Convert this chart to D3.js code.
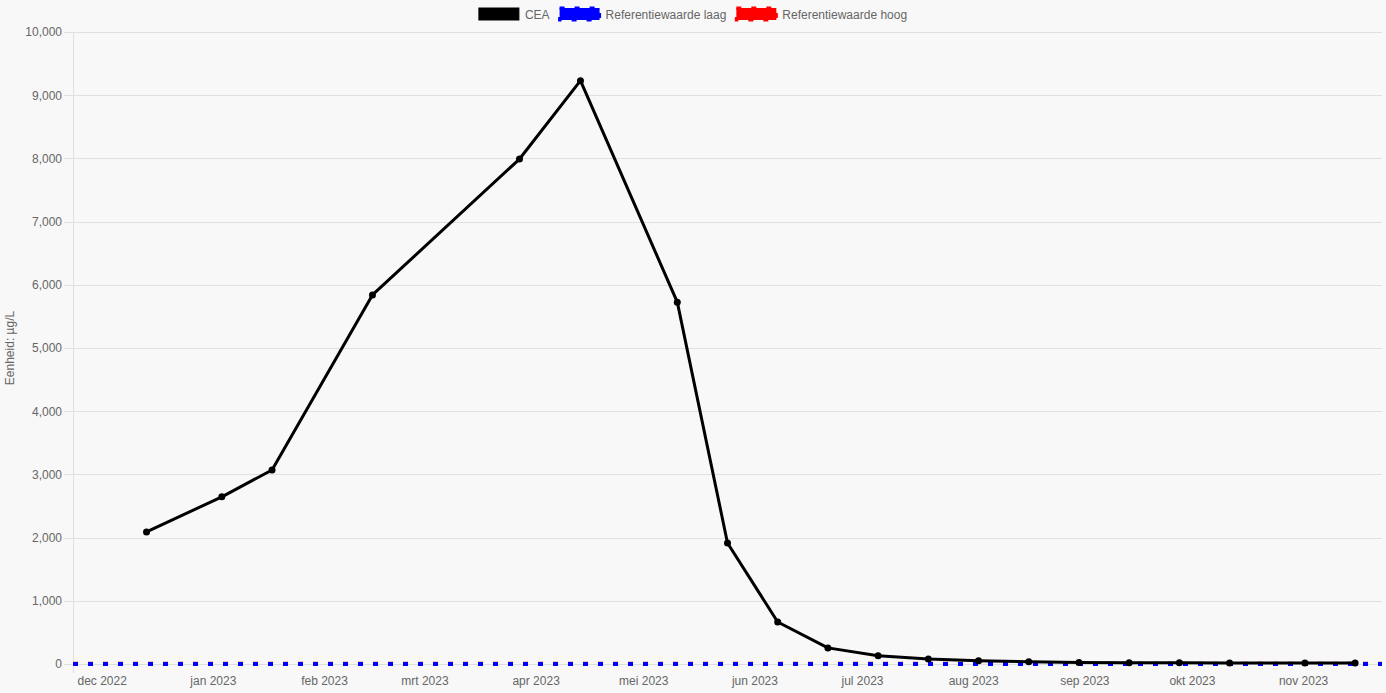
<!DOCTYPE html>
<html>
<head>
<meta charset="utf-8">
<script src="https://cdn.jsdelivr.net/npm/d3@7"></script>
<style>
  html, body { margin: 0; padding: 0; background: #f8f8f8; }
  svg { display: block; font-family: "Liberation Sans", Arial, Helvetica, sans-serif; }
</style>
</head>
<body>
<div id="chart"></div>
<script>
// data
const dates = ['2022-12-13 12:00', '2023-01-03 12:00', '2023-01-17 12:00', '2023-02-14 12:00',
    '2023-03-27 12:00', '2023-04-13 12:00', '2023-05-10 12:00', '2023-05-24 12:00',
    '2023-06-07 12:00', '2023-06-21 12:00', '2023-07-05 12:00', '2023-07-19 12:00',
    '2023-08-02 12:00', '2023-08-16 12:00', '2023-08-30 12:00', '2023-09-13 12:00',
    '2023-09-27 12:00', '2023-10-11 12:00', '2023-11-01 12:00', '2023-11-15 12:00'];
const ceaValues = [2090, 2645, 3070, 5840, 7990, 9230, 5725, 1915, 665, 255, 130, 80,
    50, 35, 25, 20, 18, 15, 15, 14];
const refDates = ['2022-11-23 00:00', '2023-11-23 00:00'];
const refLow = [0, 0];
const refHigh = [5, 5];
const yTicks = [0, 1000, 2000, 3000, 4000, 5000, 6000, 7000, 8000, 9000, 10000];
const monthNames = ['jan', 'feb', 'mrt', 'apr', 'mei', 'jun', 'jul', 'aug', 'sep', 'okt', 'nov', 'dec'];
const legendItems = [
    {label: 'CEA', color: '#000000', dashed: false},
    {label: 'Referentiewaarde laag', color: '#0000ff', dashed: true},
    {label: 'Referentiewaarde hoog', color: '#ff0000', dashed: true}
];

const width = 1386, height = 693;
const margin = {top: 32, right: 4, bottom: 29, left: 73};
const parse = d3.timeParse('%Y-%m-%d %H:%M');

const svg = d3.select('#chart').append('svg')
    .attr('width', width)
    .attr('height', height);

svg.append('rect').attr('width', width).attr('height', height).attr('fill', '#f8f8f8');

const x = d3.scaleTime()
    .domain(d3.extent(refDates, parse))
    .range([margin.left, width - margin.right]);
const y = d3.scaleLinear()
    .domain([0, 10000])
    .range([height - margin.bottom, margin.top]);

//grid lines
svg.append('g').selectAll('line').data(yTicks).enter().append('line')
    .attr('x1', margin.left - 9)
    .attr('x2', width - margin.right)
    .attr('y1', d => Math.round(y(d)) + 0.5)
    .attr('y2', d => Math.round(y(d)) + 0.5)
    .attr('stroke', '#e0e0e0')
    .attr('stroke-width', 1);

svg.append('line')
    .attr('x1', margin.left + 0.5).attr('x2', margin.left + 0.5)
    .attr('y1', margin.top).attr('y2', height - margin.bottom + 9)
    .attr('stroke', '#e0e0e0');

//y axis
const yAxis = svg.append('g')
    .attr('transform', 'translate(' + (margin.left - 11) + ',0)')
    .call(d3.axisLeft(y).tickValues(yTicks).tickFormat(d3.format(',')).tickSize(0).tickPadding(0));
yAxis.select('.domain').remove();
yAxis.selectAll('text').attr('fill', '#666').style('font-size', '12px');

svg.append('text')
    .attr('transform', 'translate(14,' + ((margin.top + height - margin.bottom) / 2) + ') rotate(-90)')
    .attr('text-anchor', 'middle')
    .attr('fill', '#666')
    .style('font-size', '12px')
    .text('Eenheid: µg/L');

//x axis
const xAxis = svg.append('g')
    .attr('transform', 'translate(0,' + (height - margin.bottom) + ')')
    .call(d3.axisBottom(x).ticks(d3.timeMonth.every(1))
        .tickFormat(d => monthNames[d.getMonth()] + ' ' + d.getFullYear())
        .tickSize(0).tickPadding(12));
xAxis.select('.domain').remove();
xAxis.selectAll('text').attr('fill', '#666').style('font-size', '12px');

//reference lines
const refLine = d3.line().x(d => x(d[0])).y(d => y(d[1]));
const refDatesParsed = refDates.map(parse);

svg.append('path')
    .datum(refDatesParsed.map((d, i) => [d, refHigh[i]]))
    .attr('d', refLine)
    .attr('fill', 'none')
    .attr('stroke', '#ff0000')
    .attr('stroke-width', 4)
    .attr('stroke-dasharray', '5,10');

svg.append('path')
    .datum(refDatesParsed.map((d, i) => [d, refLow[i]]))
    .attr('d', refLine)
    .attr('fill', 'none')
    .attr('stroke', '#0000ff')
    .attr('stroke-width', 4)
    .attr('stroke-dasharray', '5,10');

//CEA line
const ceaData = dates.map((d, i) => ({date: parse(d), value: ceaValues[i]}));
svg.append('path')
    .datum(ceaData)
    .attr('d', d3.line().x(d => x(d.date)).y(d => y(d.value)))
    .attr('fill', 'none')
    .attr('stroke', '#000')
    .attr('stroke-width', 3)
    .attr('stroke-linejoin', 'round');

svg.append('g').selectAll('circle').data(ceaData).enter().append('circle')
    .attr('cx', d => x(d.date))
    .attr('cy', d => y(d.value))
    .attr('r', 3.5)
    .attr('fill', '#000');

//legend
const legend = svg.append('g');
let lx = 0;
legendItems.forEach(item => {
    const g = legend.append('g').attr('transform', 'translate(' + lx + ',0)');
    g.append('rect')
        .attr('x', 0).attr('y', 8)
        .attr('width', 40).attr('height', 12)
        .attr('fill', item.color)
        .attr('stroke', item.color)
        .attr('stroke-width', item.dashed ? 3 : 1)
        .attr('stroke-dasharray', item.dashed ? '5,10' : null);
    const t = g.append('text')
        .attr('x', 46).attr('y', 19)
        .attr('fill', '#666')
        .style('font-size', '12px')
        .text(item.label);
    lx += 46 + t.node().getComputedTextLength() + 10;
});
legend.attr('transform', 'translate(' + ((width - (lx - 10)) / 2) + ',0)');
</script>
</body>
</html>
